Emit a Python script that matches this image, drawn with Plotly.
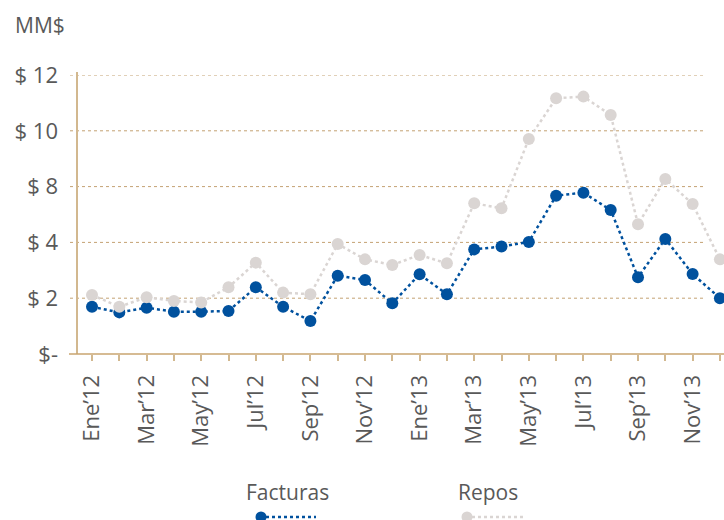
import plotly.graph_objects as go

months = ["Ene'12", "Feb'12", "Mar'12", "Abr'12", "May'12", "Jun'12", "Jul'12", "Ago'12",
          "Sep'12", "Oct'12", "Nov'12", "Dic'12", "Ene'13", "Feb'13", "Mar'13", "Abr'13",
          "May'13", "Jun'13", "Jul'13", "Ago'13", "Sep'13", "Oct'13", "Nov'13", "Dic'13"]
month_labels = [m.replace("'", "\u2019") for m in months]

facturas = [2.03, 1.79, 1.99, 1.82, 1.82, 1.85, 2.87, 2.03, 1.42, 3.37, 3.18, 2.18,
            3.43, 2.57, 4.50, 4.62, 4.82, 6.81, 6.94, 6.19, 3.30, 4.95, 3.44, 2.40]
repos = [2.54, 2.03, 2.44, 2.28, 2.22, 2.87, 3.93, 2.64, 2.57, 4.73, 4.07, 3.83,
         4.26, 3.90, 6.48, 6.27, 9.25, 11.00, 11.07, 10.28, 5.58, 7.53, 6.45, 4.07]

y_tickvals = [0, 2.4, 4.8, 7.2, 9.6, 12]
y_ticktext = ["$-", "$ 2", "$ 4", "$ 8", "$ 10", "$ 12"]

BLUE = "#00519e"
GRAY = "#dad5d3"
TAN_GRID = "#c4a273"
TAN_AXIS = "#d2b88f"
TEXT = "#595959"
FONT = "Open Sans"

fig = go.Figure()
fig.add_trace(go.Scatter(x=months, y=facturas, name="Facturas", mode="lines+markers",
                         line=dict(color=BLUE, width=2.5, dash="dot"),
                         marker=dict(color=BLUE, size=12), cliponaxis=False))
fig.add_trace(go.Scatter(x=months, y=repos, name="Repos", mode="lines+markers",
                         line=dict(color=GRAY, width=2.5, dash="dot"),
                         marker=dict(color=GRAY, size=12), cliponaxis=False))

L, R, T, B = 77, 724, 75, 354
W = R - L
H = B - T

def px(xp):
    return (xp - L) / W

def py(yp):
    return (B - yp) / H

shapes = []
for v in y_tickvals[1:]:
    shapes.append(dict(type="line", xref="paper", yref="y", x0=px(70), x1=px(706), y0=v, y1=v,
                       line=dict(color=TAN_GRID, width=1, dash="dot"), layer="below"))
# axes lines
shapes.append(dict(type="line", xref="paper", yref="paper", x0=px(77), x1=px(77), y0=py(354), y1=py(72),
                   line=dict(color=TAN_AXIS, width=2), layer="below"))
shapes.append(dict(type="line", xref="paper", yref="paper", x0=px(69), x1=px(724), y0=0, y1=0,
                   line=dict(color="#c9a56f", width=1.5), layer="below"))

# legend glyphs
for (cx, lx0, lx1, col) in [(261, 266, 316, BLUE), (467, 472, 525, GRAY)]:
    shapes.append(dict(type="line", xref="paper", yref="paper", x0=px(lx0), x1=px(lx1),
                       y0=py(517), y1=py(517), line=dict(color=col, width=2.5, dash="dot")))
    shapes.append(dict(type="circle", xref="paper", yref="paper", xsizemode="pixel", ysizemode="pixel",
                       xanchor=px(cx), yanchor=py(517), x0=-5.5, x1=5.5, y0=-5.5, y1=5.5,
                       fillcolor=col, line=dict(color=col, width=0)))

annotations = [
    dict(text="MM$", xref="paper", yref="paper", x=px(13), y=py(25), xanchor="left", yanchor="middle",
         showarrow=False, font=dict(family=FONT, size=21, color=TEXT)),
    dict(text="Facturas", xref="paper", yref="paper", x=px(287), y=py(492), xanchor="center", yanchor="middle",
         showarrow=False, font=dict(family=FONT, size=21, color=TEXT)),
    dict(text="Repos", xref="paper", yref="paper", x=px(488), y=py(492), xanchor="center", yanchor="middle",
         showarrow=False, font=dict(family=FONT, size=21, color=TEXT)),
]

fig.update_layout(
    width=724, height=520,
    margin=dict(l=L, r=724 - R, t=T, b=520 - B, pad=0),
    paper_bgcolor="white", plot_bgcolor="white",
    showlegend=False,
    shapes=shapes, annotations=annotations,
    font=dict(family=FONT, color=TEXT, size=21),
    xaxis=dict(type="category", range=[-0.55, 23.15], showgrid=False, zeroline=False, showline=False,
               tickmode="array", tickvals=months,
               ticktext=[lab if i % 2 == 0 else "" for i, lab in enumerate(month_labels)],
               ticks="outside", ticklen=6, tickcolor=TAN_AXIS, tickwidth=1.5,
               tickangle=-90, tickfont=dict(family=FONT, size=22, color=TEXT),
               ticklabelstandoff=5),
    yaxis=dict(range=[0, 12], showgrid=False, zeroline=False, showline=False,
               tickmode="array", tickvals=y_tickvals, ticktext=y_ticktext,
               ticks="", tickfont=dict(family=FONT, size=22, color=TEXT),
               ticklabelstandoff=18),
)

fig.write_html("out.html", config={"displayModeBar": False},
               post_script="document.body.style.margin='0';document.body.style.padding='0';")
